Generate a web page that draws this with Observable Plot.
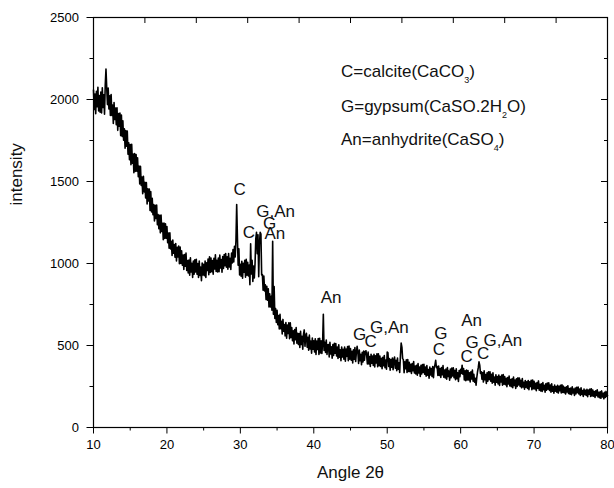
<!DOCTYPE html>
<html><head><meta charset="utf-8">
<script src="https://cdn.jsdelivr.net/npm/d3@7"></script>
<script src="https://cdn.jsdelivr.net/npm/@observablehq/plot@0.6"></script>
<style>
body{margin:0;background:#fff;}
#wrap{position:relative;width:614px;height:488px;font-family:"Liberation Sans",Arial,sans-serif;}
.leg{position:absolute;left:341px;font-size:17px;line-height:17px;color:#111;white-space:nowrap;}
.leg sub{font-size:9px;vertical-align:-6px;line-height:0;}
</style></head><body><div id="wrap"></div>
<script>
// XRD pattern: intensity sampled every 0.1 degree from 10 to 80 (2θ)
const angleStart = 10, angleStep = 0.1;
const intensity = [
2058,1939,2033,1913,2050,1956,2075,1930,2024,1922,
2046,1918,2072,1952,2029,1910,2090,2185,2072,1969,
2070,1942,2022,1902,2030,1902,1966,1854,1982,1878,
1948,1847,1950,1812,1915,1837,1918,1780,1905,1775,
1870,1752,1822,1703,1811,1715,1807,1666,1736,1633,
1725,1602,1727,1611,1668,1553,1670,1562,1664,1563,
1645,1529,1594,1485,1592,1476,1527,1425,1532,1437,
1495,1400,1493,1363,1456,1382,1454,1324,1438,1315,
1397,1297,1360,1259,1355,1274,1356,1236,1299,1212,
1294,1187,1296,1195,1245,1145,1247,1153,1242,1154,
1225,1127,1185,1093,1187,1089,1135,1049,1143,1063,
1115,1038,1122,1015,1099,1040,1106,999,1101,1000,
1078,990,1051,963,1054,984,1063,957,1018,942,
1021,929,1035,949,1001,915,1015,935,1023,949,
1025,935,1000,915,1015,927,978,895,1003,930,
995,925,1015,915,1004,957,1027,932,1041,945,
1033,950,1018,935,1032,967,1053,952,1020,949,
1033,950,1051,973,1024,947,1042,970,1054,987,
1060,978,1041,965,1061,979,1031,963,1063,1004,
1085,1010,1105,1040,1140,1360,1160,990,1090,930,
995,923,1013,911,1001,947,1019,917,1025,929,
1008,924,990,870,1120,936,1020,890,984,912,
1000,1150,1190,1060,1175,920,1120,1190,1180,930,
933,837,924,833,870,780,861,776,846,735,
815,735,800,715,1135,690,860,665,725,640,
715,627,683,601,690,602,647,570,659,587,
628,559,640,544,625,573,638,542,639,549,
609,530,590,510,597,535,610,514,574,506,
573,488,587,507,556,478,570,595,495,560,
575,490,550,471,563,479,527,453,546,477,
528,460,541,446,527,476,542,446,544,454,
529,452,513,690,470,520,458,533,445,505,
506,430,519,448,492,422,506,440,514,453,
512,436,491,421,504,429,474,407,491,430,
477,416,490,404,479,434,493,408,497,416,
482,411,465,394,474,417,487,402,456,495,
459,390,472,407,446,383,459,399,466,411,
462,468,440,388,460,387,432,372,447,392,
435,379,447,369,437,394,449,370,450,377,
436,372,422,358,428,377,439,365,411,356,
460,455,372,420,350,415,368,424,352,410,
430,361,410,347,424,355,394,335,440,515,
490,420,414,334,401,359,413,335,415,342,
398,341,385,329,390,346,402,332,375,326,
380,319,390,333,368,312,379,326,384,336,
386,325,369,313,378,319,354,301,368,320,
360,312,372,304,364,382,410,365,372,318,
374,318,360,305,366,322,377,307,350,302,
356,295,366,311,345,289,356,303,362,314,
364,304,348,292,358,298,334,281,348,310,
355,330,380,325,360,290,345,285,350,290,
347,290,333,278,339,296,350,282,324,276,
300,258,305,340,365,400,380,330,340,295,
335,277,345,291,323,269,334,283,339,293,
340,282,324,270,333,276,308,258,322,276,
310,266,320,257,311,278,320,258,323,264,
311,261,300,249,304,266,314,253,292,249,
297,243,307,257,289,238,297,251,303,259,
302,251,288,242,298,247,276,233,287,246,
279,238,287,231,279,250,288,231,290,236,
281,235,270,224,274,239,284,228,263,223,
266,220,274,231,258,215,266,227,271,234,
272,226,259,215,267,222,248,209,259,222,
250,215,257,210,251,225,258,211,260,214,
252,212,243,204,248,217,255,207,237,203,
241,200,248,210,234,196,241,205,245,212,
247,205,234,196,242,201,225,189,235,201,
227,196,233,188,228,203,234,190,236,193,
229,191,219,183,224,195,230,186,214,182,
217,178,223,186,209,175,215,183,220,189,
196
];

const xMajorTicks = [10, 20, 30, 40, 50, 60, 70, 80];
const xMinorTicks = [15, 25, 35, 45, 55, 65, 75];
const xTopTicks = [17, 24, 31, 38, 45, 52, 59, 66, 73];
const yMajorTicks = [0, 500, 1000, 1500, 2000, 2500];
const yMinorTicks = [250, 750, 1250, 1750, 2250];

const peakLabels = ["C", "G,An", "C", "G", "An", "An", "G", "C", "G,An", "G", "C", "An", "G", "C", "C", "G,An"];
const peakAngles = [29.9, 34.8, 31.15, 34.0, 34.7, 42.35, 46.25, 47.75, 50.3, 57.3, 57.05, 61.5, 61.55, 60.8, 63.05, 65.75];
const peakIntensities = [1452, 1318, 1190, 1245, 1180, 794, 568, 526, 611, 573, 475, 653, 516, 431, 452, 532];

const legendMain = ["C=calcite(CaCO", "G=gypsum(CaSO.2H", "An=anhydrite(CaSO"];
const legendSub = ["3", "2", "4"];
const legendTail = [")", "O)", ")"];

const xTitle = "Angle 2θ";
const yTitle = "intensity";

const data = intensity.map((v, i) => ({angle: +(angleStart + i * angleStep).toFixed(1), intensity: v}));
const peaks = peakLabels.map((t, i) => ({label: t, angle: peakAngles[i], intensity: peakIntensities[i]}));

const W = 614, H = 488, mL = 93, mR = 7, mT = 17, mB = 61;
const fw = W - mL - mR, fh = H - mT - mB;

const chart = Plot.plot({
  width: W, height: H,
  marginLeft: mL, marginRight: mR, marginTop: mT, marginBottom: mB,
  style: {fontFamily: "Liberation Sans, Arial, sans-serif", background: "white", color: "#000"},
  x: {domain: [10, 80]},
  y: {domain: [0, 2500]},
  marks: [
    Plot.lineY(data, {x: "angle", y: "intensity", stroke: "#000", strokeWidth: 1.6}),
    Plot.frame({stroke: "#000", strokeWidth: 1.2}),
    Plot.axisX({ticks: xMajorTicks, tickSize: 6.5, tickPadding: 6, fontSize: 13, label: null, tickFormat: d => String(d)}),
    Plot.axisX({ticks: xMinorTicks, tickSize: 3.5, label: null, tickFormat: () => ""}),
    Plot.axisY({ticks: yMajorTicks, tickSize: 6.5, tickPadding: 8, fontSize: 13, label: null, tickFormat: d => String(d)}),
    Plot.axisY({ticks: yMinorTicks, tickSize: 3.5, label: null, tickFormat: () => ""}),
    Plot.tickX(xTopTicks, {x: d => d, insetBottom: fh - 6, stroke: "#000"}),
    Plot.tickY(yMajorTicks, {y: d => d, insetLeft: fw - 6, stroke: "#000"}),
    Plot.tickY(yMinorTicks, {y: d => d, insetLeft: fw - 3, stroke: "#000"}),
    Plot.text(peaks, {x: "angle", y: "intensity", text: "label", fontSize: 17, fill: "#111"}),
    Plot.text([yTitle], {text: d => d, frameAnchor: "left", rotate: -90, dx: -77, dy: -17, fontSize: 17, fill: "#111"}),
    Plot.text([xTitle], {text: d => d, frameAnchor: "bottom", dy: 50, fontSize: 17, fill: "#111"})
  ]
});

const wrap = document.getElementById("wrap");
wrap.appendChild(chart);
const legendTops = [62.7, 97.7, 130.7];
legendMain.forEach((t, i) => {
  const div = document.createElement("div");
  div.className = "leg";
  div.style.top = legendTops[i] + "px";
  div.appendChild(document.createTextNode(t));
  const sub = document.createElement("sub");
  sub.textContent = legendSub[i];
  div.appendChild(sub);
  div.appendChild(document.createTextNode(legendTail[i]));
  wrap.appendChild(div);
});
</script>
</body></html>
